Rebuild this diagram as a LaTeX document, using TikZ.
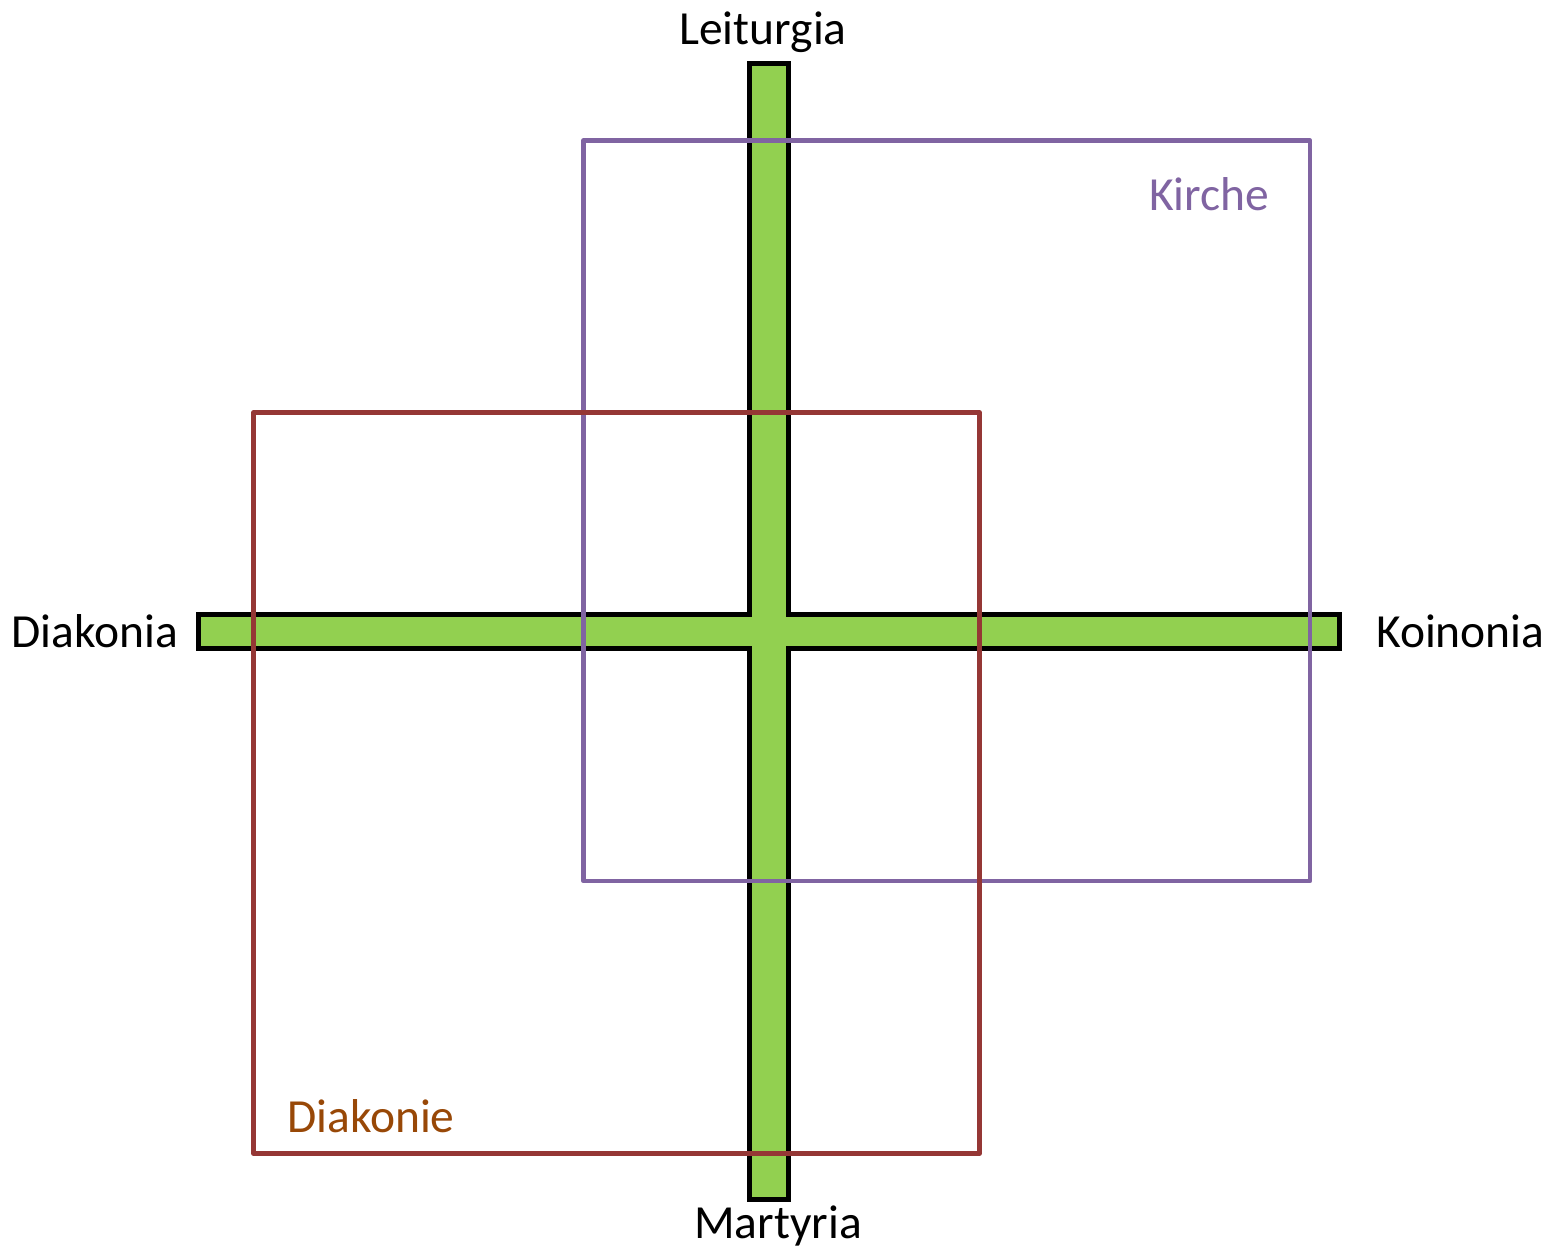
\documentclass[tikz,border=0pt]{standalone}
\usepackage{fontspec}
\setmainfont{Carlito}
\definecolor{crossgreen}{HTML}{92D050}
\definecolor{kirchepurple}{HTML}{8064A2}
\definecolor{diakoniered}{HTML}{953735}
\definecolor{diakonieorange}{HTML}{984807}
\tikzset{
  crossbar/.style={fill=crossgreen, draw=black, line width=5pt, line join=miter},
  frame/.style={line width=4.5pt, line join=round},
  label/.style={inner sep=0pt, font=\fontsize{47.5}{57}\selectfont},
}
\begin{document}
\begin{tikzpicture}[x=1pt, y=-1pt]
  \useasboundingbox (0,0) rectangle (1553,1250);
  % the cross, drawn as one outline
  \draw[crossbar] (749.5,63) -- (788.5,63) -- (788.5,614.5) -- (1339.5,614.5)
    -- (1339.5,648.5) -- (788.5,648.5) -- (788.5,1199) -- (749.5,1199)
    -- (749.5,648.5) -- (198.5,648.5) -- (198.5,614.5) -- (749.5,614.5) -- cycle;
  % the two overlapping fields
  \draw[frame, draw=kirchepurple] (583.5,140.5) rectangle (1310,881);
  \draw[frame, draw=diakoniered] (253.5,412.5) rectangle (979.5,1153.5);
  % arm labels
  \node[label, anchor=base] (leiturgia) at (763,44) {Leiturgia};
  \node[label, anchor=base] (martyria) at (778,1238) {Martyria};
  \node[label, anchor=base east] (diakonia) at (178,647) {Diakonia};
  \node[label, anchor=base west] (koinonia) at (1376,647) {Koinonia};
  % field labels
  \node[label, anchor=base west, text=kirchepurple] (kirche) at (1149,210) {Kirche};
  \node[label, anchor=base west, text=diakonieorange] (diakonie) at (287,1132) {Diakonie};
\end{tikzpicture}
\end{document}
